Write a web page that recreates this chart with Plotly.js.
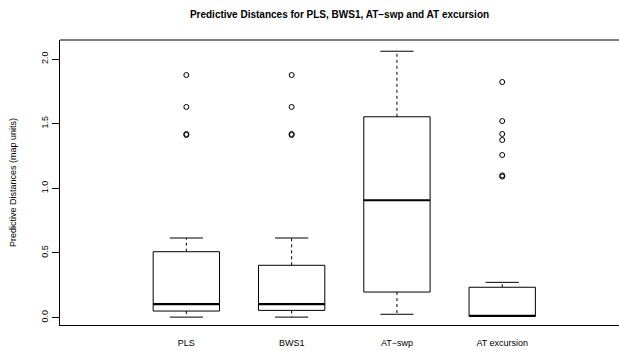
<!DOCTYPE html>
<html>
<head>
<meta charset="utf-8">
<script src="https://cdn.plot.ly/plotly-3.0.1.min.js"></script>
<style>html,body{margin:0;padding:0;background:#fff;}#chart{width:619px;height:351px;}</style>
</head>
<body>
<div id="chart"></div>
<script>
const categories = ["PLS", "BWS1", "AT\u2212swp", "AT excursion"];
const lowerWhisker = [0.003, 0.003, 0.025, 0.010];
const lowerHinge = [0.050, 0.055, 0.197, 0.010];
const medians = [0.104, 0.104, 0.907, 0.012];
const upperHinge = [0.509, 0.404, 1.553, 0.234];
const upperWhisker = [0.615, 0.615, 2.060, 0.272];
const outliersPLS = [1.876, 1.629, 1.420, 1.412];
const outliersBWS1 = [1.876, 1.629, 1.420, 1.412];
const outliersATswp = [];
const outliersATexc = [1.822, 1.520, 1.420, 1.373, 1.257, 1.100, 1.090];
const yTicks = [0.0, 0.5, 1.0, 1.5, 2.0];

const outliers = [outliersPLS, outliersBWS1, outliersATswp, outliersATexc];
const positions = categories.map((c, i) => i + 1);
const halfBox = 0.315;
const halfCap = halfBox / 2;

const boxX = [], boxY = [], medX = [], medY = [], whX = [], whY = [], capX = [], capY = [], outX = [], outY = [];
positions.forEach((p, i) => {
  boxX.push(p - halfBox, p + halfBox, p + halfBox, p - halfBox, p - halfBox, null);
  boxY.push(lowerHinge[i], lowerHinge[i], upperHinge[i], upperHinge[i], lowerHinge[i], null);
  medX.push(p - halfBox, p + halfBox, null);
  medY.push(medians[i], medians[i], null);
  whX.push(p, p, null, p, p, null);
  whY.push(upperHinge[i], upperWhisker[i], null, lowerHinge[i], lowerWhisker[i], null);
  capX.push(p - halfCap, p + halfCap, null, p - halfCap, p + halfCap, null);
  capY.push(upperWhisker[i], upperWhisker[i], null, lowerWhisker[i], lowerWhisker[i], null);
  outliers[i].forEach(v => { outX.push(p); outY.push(v); });
});

const line = (x, y, width, dash) => ({
  type: "scatter", mode: "lines", x: x, y: y, hoverinfo: "skip",
  line: {color: "#000", width: width, dash: dash || "solid"}, showlegend: false
});

const traces = [
  line(whX, whY, 1, "3px,3px"),
  line(capX, capY, 1),
  line(boxX, boxY, 1),
  line(medX, medY, 2.2),
  {type: "scatter", mode: "markers", x: outX, y: outY, showlegend: false, hoverinfo: "skip",
   marker: {symbol: "circle-open", size: 5, color: "#000", line: {width: 1, color: "#000"}}}
];

const font = {family: "Liberation Sans, Arial, Helvetica, sans-serif", color: "#000"};
const layout = {
  width: 619, height: 351,
  margin: {l: 60, r: 0, t: 40, b: 26},
  paper_bgcolor: "#fff", plot_bgcolor: "#fff",
  font: font,
  showlegend: false,
  title: {text: "<b>Predictive Distances for PLS, BWS1, AT\u2212swp and AT excursion</b>",
          font: {family: font.family, size: 10, color: "#000"},
          x: 0.5, xref: "paper", xanchor: "center", y: 0.96, yref: "container", yanchor: "middle"},
  xaxis: {range: [-0.2, 5.109], showgrid: false, zeroline: false, showline: true, linecolor: "#000", linewidth: 1,
          tickvals: positions, ticktext: categories, ticks: "", ticklabelstandoff: 9,
          tickfont: {family: font.family, size: 9, color: "#000"}, fixedrange: true},
  yaxis: {range: [-0.058, 2.147], showgrid: false, zeroline: false, showline: true, linecolor: "#000", linewidth: 1,
          tickvals: yTicks, tickformat: ".1f", ticks: "outside", ticklen: 7, tickcolor: "#000", tickangle: -90,
          tickfont: {family: font.family, size: 9, color: "#000"},
          title: {text: "Predictive Distances (map units)", font: {family: font.family, size: 9, color: "#000"}, standoff: 22},
          fixedrange: true},
  shapes: [{type: "line", xref: "paper", yref: "paper", x0: 0, x1: 1, y0: 1, y1: 1, line: {color: "#000", width: 1}}]
};

Plotly.newPlot("chart", traces, layout, {staticPlot: true, displayModeBar: false});
</script>
</body>
</html>
